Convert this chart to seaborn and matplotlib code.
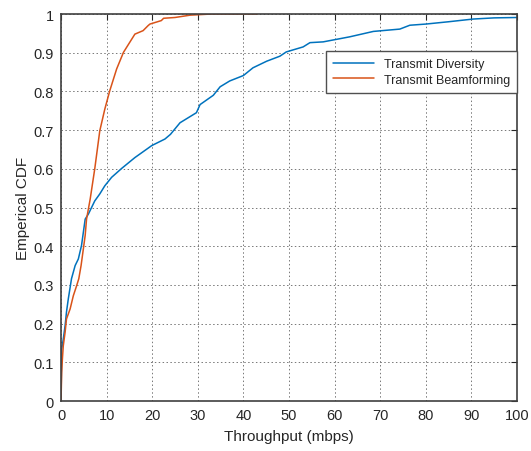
import matplotlib
matplotlib.use("Agg")
import matplotlib.pyplot as plt
import seaborn as sns
import pandas as pd

# Empirical CDF of throughput, Transmit Diversity
diversity_x = [0.0, 0.15, 0.5, 0.9, 1.2, 1.6, 2.3, 3.1, 3.8, 4.5, 5.3, 6.0, 6.7, 7.4,
               8.5, 9.6, 11.1, 13.3, 16.2, 19.9, 22.8, 24.0, 26.1, 29.7, 30.5, 33.4,
               34.9, 37.0, 40.0, 42.1, 45.1, 48.0, 49.4, 53.1, 54.6, 57.5, 63.3, 68.5,
               74.3, 76.5, 80.0, 85.0, 90.4, 95.0, 100.0, 102.0]
diversity_y = [0.0, 0.134, 0.16, 0.195, 0.23, 0.264, 0.316, 0.35, 0.367, 0.402, 0.47,
               0.483, 0.50, 0.517, 0.535, 0.556, 0.578, 0.601, 0.629, 0.66, 0.677, 0.689,
               0.719, 0.745, 0.766, 0.79, 0.812, 0.827, 0.841, 0.861, 0.878, 0.891, 0.902,
               0.915, 0.926, 0.928, 0.941, 0.955, 0.961, 0.971, 0.974, 0.98, 0.987, 0.99,
               0.991, 0.993]

# Empirical CDF of throughput, Transmit Beamforming
beamforming_x = [0.0, 0.15, 0.3, 0.5, 0.9, 1.2, 2.0, 2.7, 3.4, 3.9, 4.4, 4.9, 5.3, 5.6,
                 6.4, 7.4, 8.5, 9.6, 10.7, 12.2, 13.7, 16.2, 18.0, 19.1, 19.5, 22.0,
                 22.5, 25.0, 28.3, 33.0, 43.0]
beamforming_y = [0.0, 0.074, 0.108, 0.143, 0.178, 0.212, 0.238, 0.272, 0.297, 0.316,
                 0.35, 0.393, 0.428, 0.47, 0.522, 0.60, 0.698, 0.754, 0.802, 0.858, 0.901,
                 0.948, 0.957, 0.97, 0.974, 0.983, 0.989, 0.991, 0.997, 1.0, 1.0]

series_names = ["Transmit Diversity", "Transmit Beamforming"]
series_colors = ["#0072BD", "#D95319"]

x_ticks = list(range(0, 101, 10))
y_ticks = [0, 0.1, 0.2, 0.3, 0.4, 0.5, 0.6, 0.7, 0.8, 0.9, 1]
y_tick_labels = ["0", "0.1", "0.2", "0.3", "0.4", "0.5", "0.6", "0.7", "0.8", "0.9", "1"]

df = pd.concat([
    pd.DataFrame({"Throughput": diversity_x, "CDF": diversity_y, "Scheme": series_names[0]}),
    pd.DataFrame({"Throughput": beamforming_x, "CDF": beamforming_y, "Scheme": series_names[1]}),
], ignore_index=True)

sns.set_theme(style="white")
plt.rcParams["font.family"] = ["Liberation Sans", "DejaVu Sans"]

fig = plt.figure(figsize=(5.31, 4.52), dpi=100)
ax = fig.add_axes([0.1149, 0.1106, 0.8587, 0.8562])

sns.lineplot(data=df, x="Throughput", y="CDF", hue="Scheme", hue_order=series_names,
             palette=series_colors, estimator=None, sort=False, linewidth=1.1, ax=ax)

ax.set_xlim(0, 100)
ax.set_ylim(0, 1)
ax.set_xticks(x_ticks)
ax.set_yticks(y_ticks)
ax.set_yticklabels(y_tick_labels)
ax.tick_params(axis="both", which="both", direction="in", length=4, width=0.8,
               top=True, right=True, labelsize=10.5, colors="#262626", pad=5)

ax.grid(True, linestyle=(0, (1.5, 2.5)), color="#555555", linewidth=0.7, alpha=0.8)
for side in ax.spines.values():
    side.set_color("#404040")
    side.set_linewidth(1.2)

ax.set_xlabel("Throughput (mbps)", fontsize=11, color="#262626", labelpad=5)
ax.set_ylabel("Emperical CDF", fontsize=11, color="#262626", labelpad=3)

leg = ax.legend(loc="upper right", bbox_to_anchor=(1.0, 0.904), borderaxespad=0,
                fontsize=9, handlelength=3.3, handletextpad=0.8, borderpad=0.55,
                labelspacing=0.3, fancybox=False, framealpha=1, edgecolor="#505050")
leg.get_frame().set_linewidth(1.0)

fig.savefig("out.png", dpi=100)
